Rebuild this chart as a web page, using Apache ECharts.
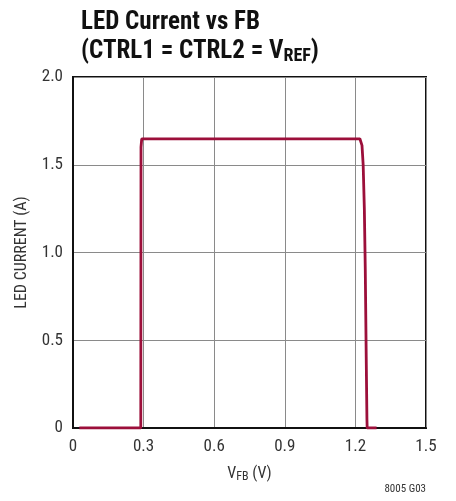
<!DOCTYPE html>
<html>
<head>
<meta charset="utf-8">
<script src="https://cdn.jsdelivr.net/npm/echarts@6/dist/echarts.min.js"></script>
<style>
  html, body { margin: 0; padding: 0; background: #fff; }
  #chart { width: 456px; height: 501px; }
</style>
</head>
<body>
<div id="chart"></div>
<script>
// LED current vs V_FB
const vfb = [0.027, 0.288, 0.289, 0.292, 1.219, 1.228, 1.233, 1.238, 1.242, 1.246, 1.249, 1.25, 1.29]
const ledCurrent = [0, 0, 1.6, 1.648, 1.648, 1.61, 1.5, 1.25, 0.9, 0.4, 0.05, 0, 0]

const xTicks = [0, 0.3, 0.6, 0.9, 1.2, 1.5]
const yTicks = [0, 0.5, 1.0, 1.5, 2.0]

const lineColor = '#9c0f3a'
const gridColor = '#8a8a8a'
const labelFont = '"Liberation Sans Narrow", "Roboto Condensed", Roboto, sans-serif'

const chart = echarts.init(document.getElementById('chart'))

chart.setOption({
  backgroundColor: '#fff',
  animation: false,
  title: {
    left: 76,
    top: 3,
    text: 'LED Current vs FB\n(CTRL1 = CTRL2 = V{sub|REF})',
    textStyle: {
      fontFamily: labelFont,
      fontWeight: 'bold',
      fontSize: 25,
      lineHeight: 29,
      color: '#111',
      rich: {
        sub: {
          fontFamily: labelFont,
          fontWeight: 'bold',
          fontSize: 18,
          color: '#111',
          padding: [10, 0, 0, 0],
        },
      },
    },
  },
  grid: { left: 73, right: 30, top: 77, bottom: 73 },
  xAxis: {
    type: 'value',
    min: 0,
    max: 1.5,
    interval: 0.3,
    name: 'V{sub|FB} (V)',
    nameLocation: 'middle',
    nameGap: 36,
    nameTextStyle: {
      fontFamily: labelFont,
      fontSize: 16,
      color: '#333',
      rich: {
        sub: { fontFamily: labelFont, fontSize: 12, color: '#333', padding: [7, 0, 0, 0] },
      },
    },
    axisLine: { show: true, lineStyle: { color: '#111', width: 2 } },
    axisTick: { show: false },
    splitLine: { show: true, lineStyle: { color: gridColor, width: 1 } },
    axisLabel: {
      margin: 10,
      fontFamily: labelFont,
      fontSize: 17,
      color: '#333',
      formatter: (v) => (v === 0 ? '0' : xTicks.includes(+v.toFixed(1)) ? v.toFixed(1) : ''),
    },
  },
  yAxis: {
    type: 'value',
    min: 0,
    max: 2,
    interval: 0.5,
    name: 'LED CURRENT (A)',
    nameLocation: 'middle',
    nameGap: 43,
    nameTextStyle: { fontFamily: labelFont, fontSize: 16, color: '#333' },
    axisLine: { show: true, lineStyle: { color: '#111', width: 2 } },
    axisTick: { show: false },
    splitLine: { show: true, lineStyle: { color: gridColor, width: 1 } },
    axisLabel: {
      margin: 10,
      fontFamily: labelFont,
      fontSize: 17,
      color: '#333',
      formatter: (v) => (v === 0 ? '0' : yTicks.includes(v) ? v.toFixed(1) : ''),
    },
  },
  graphic: [
    // plot frame (top and right edges)
    {
      type: 'rect',
      shape: { x: 73, y: 77, width: 353, height: 351 },
      style: { fill: 'none', stroke: '#111', lineWidth: 2 },
      silent: true,
    },
    {
      type: 'text',
      right: 30,
      top: 484,
      style: { text: '8005 G03', font: '11px ' + labelFont, fill: '#333' },
    },
  ],
  series: [
    {
      type: 'line',
      data: vfb.map((x, i) => [x, ledCurrent[i]]),
      symbol: 'none',
      smooth: false,
      lineStyle: { color: lineColor, width: 2.8 },
      z: 5,
    },
  ],
})
</script>
</body>
</html>
